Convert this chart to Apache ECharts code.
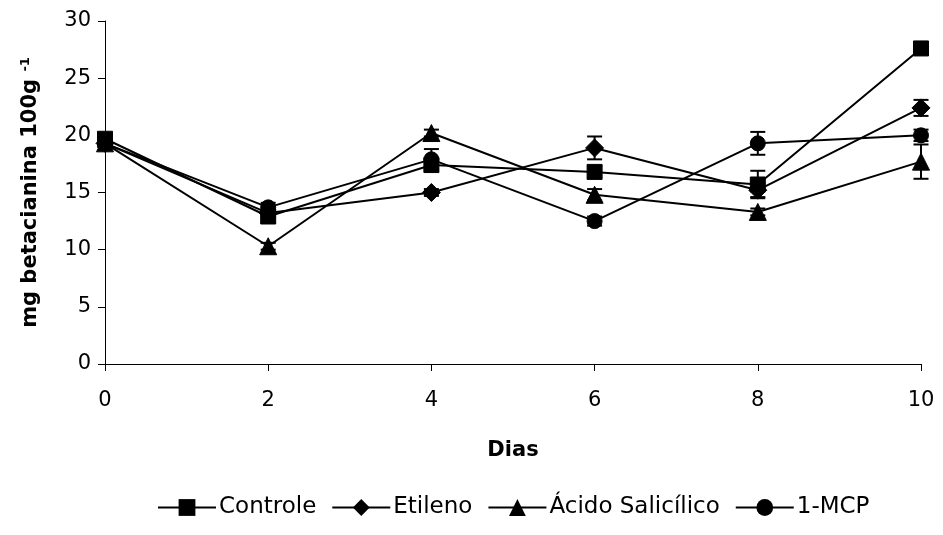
<!DOCTYPE html>
<html><head><meta charset="utf-8">
<script src="https://cdn.jsdelivr.net/npm/echarts@6/dist/echarts.min.js"></script>
<style>html,body{margin:0;padding:0;background:#fff}#c{width:943px;height:535px}</style>
</head><body><div id="c"></div>
<script>
const days = [0, 2, 4, 6, 8, 10];
const controle = [19.7, 12.9, 17.4, 16.8, 15.7, 27.6];
const etileno = [19.3, 13.2, 15.0, 18.9, 15.2, 22.4];
const acido = [19.3, 10.3, 20.2, 14.8, 13.3, 17.7];
const mcp = [19.3, 13.7, 17.9, 12.5, 19.3, 20.0];
const errControle = [0.5, 0.5, 0.4, 0.5, 1.2, 0.3];
const errEtileno = [0.3, 0.3, 0.3, 1.0, 0.6, 0.7];
const errAcido = [0.3, 0.3, 0.3, 0.5, 0.3, 1.5];
const errMcp = [0.3, 0.4, 0.9, 0.4, 1.0, 0.5];
const names = ['Controle', 'Etileno', 'Ácido Salicílico', '1-MCP'];
const yTicks = [0, 5, 10, 15, 20, 25, 30];

const FONT = 'DejaVu Sans, Liberation Sans, Arial, sans-serif';
const vals = [controle, etileno, acido, mcp];
const errs = [errControle, errEtileno, errAcido, errMcp];
const symbols = ['rect', 'diamond', 'triangle', 'circle'];
const sizes = [15, 18, 17, 15];

const series = [];
vals.forEach((v, i) => {
  series.push({
    type: 'custom',
    silent: true,
    z: 1,
    renderItem: function (params, api) {
      const x = api.value(0), y = api.value(1), e = api.value(2);
      const top = api.coord([x, y + e]);
      const bot = api.coord([x, y - e]);
      const w = 7.5;
      const st = { stroke: '#000', lineWidth: 2 };
      return { type: 'group', children: [
        { type: 'line', shape: { x1: top[0], y1: top[1], x2: bot[0], y2: bot[1] }, style: st },
        { type: 'line', shape: { x1: top[0] - w, y1: top[1], x2: top[0] + w, y2: top[1] }, style: st },
        { type: 'line', shape: { x1: bot[0] - w, y1: bot[1], x2: bot[0] + w, y2: bot[1] }, style: st }
      ]};
    },
    data: days.map((d, k) => [d, v[k], errs[i][k]])
  });
});
vals.forEach((v, i) => {
  series.push({
    name: names[i],
    type: 'line',
    z: 3,
    symbol: symbols[i],
    symbolSize: sizes[i],
    showAllSymbol: true,
    lineStyle: { color: '#000', width: 2 },
    itemStyle: { color: '#000', borderColor: '#000' },
    data: days.map((d, k) => [d, v[k]])
  });
});

const chart = echarts.init(document.getElementById('c'));
chart.setOption({
  animation: false,
  backgroundColor: '#fff',
  textStyle: { fontFamily: FONT },
  grid: { left: 105, right: 22, top: 21, bottom: 171, containLabel: false },
  legend: {
    data: names,
    bottom: 11,
    left: 152,
    itemWidth: 58,
    itemHeight: 21,
    itemGap: 15,
    textStyle: { fontSize: 23, color: '#000', fontFamily: FONT, padding: [0, 0, 0, -2] }
  },
  xAxis: {
    type: 'value',
    min: 0, max: 10, interval: 2,
    name: 'Dias',
    nameLocation: 'middle',
    nameGap: 76,
    nameTextStyle: { fontSize: 21, fontWeight: 'bold', color: '#000', fontFamily: FONT },
    axisLine: { show: true, lineStyle: { color: '#000', width: 1 } },
    axisTick: { show: true, inside: false, length: 7, lineStyle: { color: '#000' } },
    axisLabel: { fontSize: 21, color: '#000', margin: 26, fontFamily: FONT },
    splitLine: { show: false }
  },
  yAxis: {
    type: 'value',
    min: 0, max: 30, interval: 5,
    name: '{b|mg betacianina 100g }{s|-1}',
    nameLocation: 'middle',
    nameGap: 63,
    nameRotate: 90,
    nameTextStyle: {
      rich: {
        b: { fontSize: 21, fontWeight: 'bold', color: '#000', fontFamily: FONT },
        s: { fontSize: 13, fontWeight: 'bold', color: '#000', verticalAlign: 'top', padding: [0, 0, 10, 0], fontFamily: FONT }
      }
    },
    axisLine: { show: true, lineStyle: { color: '#000', width: 1 } },
    axisTick: { show: true, inside: false, length: 7, lineStyle: { color: '#000' } },
    axisLabel: { fontSize: 21, color: '#000', margin: 14, fontFamily: FONT, formatter: v => yTicks.includes(v) ? String(v) : '' },
    splitLine: { show: false }
  },
  series: series
});
</script>
</body></html>
